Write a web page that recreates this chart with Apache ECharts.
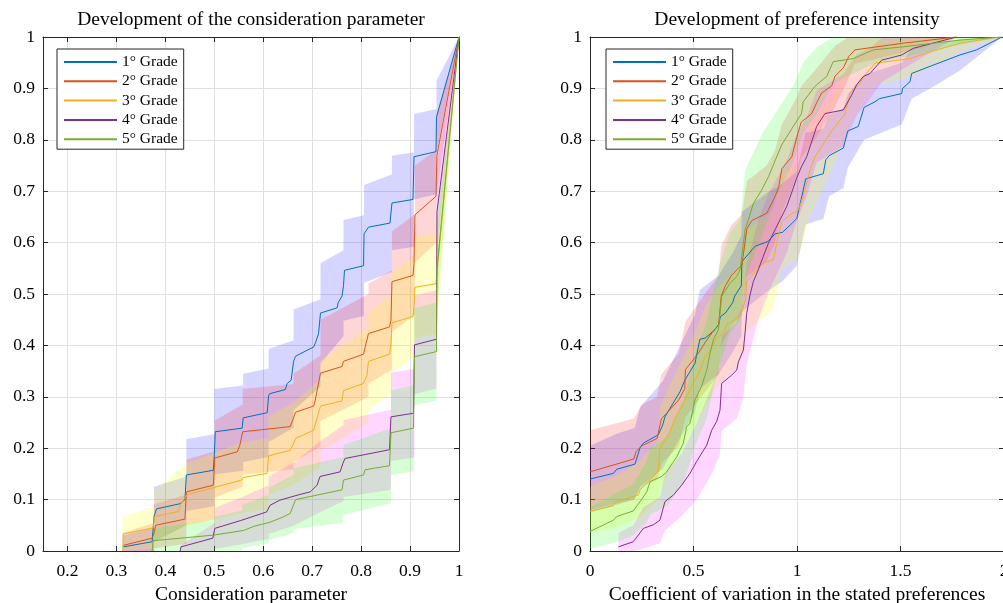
<!DOCTYPE html>
<html><head><meta charset="utf-8">
<script src="https://cdn.jsdelivr.net/npm/echarts@6/dist/echarts.min.js"></script>
<style>html,body{margin:0;padding:0;background:#fff}#c{width:1003px;height:603px}</style>
</head><body><div id="c"></div>
<script>
const grades = ['1° Grade','2° Grade','3° Grade','4° Grade','5° Grade'];
const lineColors = ['#0072BD','#D95319','#EDB120','#7E2F8E','#77AC30'];
const bandColors = ['rgba(0,0,255,0.165)','rgba(255,0,0,0.16)','rgba(255,255,0,0.2)','rgba(255,0,255,0.16)','rgba(0,255,0,0.16)'];
const consTicks = [0.2,0.3,0.4,0.5,0.6,0.7,0.8,0.9,1];
const prefTicks = [0,0.5,1,1.5,2];
const yTicks = [0,0.1,0.2,0.3,0.4,0.5,0.6,0.7,0.8,0.9,1];

// Left panel: consideration parameter, lines [x, F(x)]
const consG1 = [[0.314,0.008],[0.373,0.018],[0.377,0.068],[0.382,0.082],[0.430,0.092],[0.440,0.100],[0.443,0.148],[0.498,0.157],[0.500,0.185],[0.502,0.232],[0.557,0.239],[0.559,0.259],[0.608,0.269],[0.611,0.302],[0.613,0.306],[0.645,0.314],[0.649,0.326],[0.657,0.332],[0.662,0.369],[0.666,0.379],[0.703,0.397],[0.707,0.406],[0.713,0.423],[0.717,0.463],[0.751,0.473],[0.753,0.483],[0.761,0.496],[0.764,0.516],[0.766,0.546],[0.805,0.555],[0.806,0.617],[0.815,0.630],[0.859,0.638],[0.863,0.677],[0.906,0.684],[0.908,0.767],[0.953,0.777],[0.954,0.844],[1.0,1.0]];
const consG2 = [[0.314,0.011],[0.373,0.025],[0.377,0.035],[0.380,0.050],[0.440,0.062],[0.443,0.115],[0.498,0.128],[0.501,0.181],[0.547,0.193],[0.552,0.205],[0.558,0.232],[0.655,0.242],[0.662,0.259],[0.666,0.270],[0.703,0.282],[0.706,0.292],[0.717,0.346],[0.761,0.359],[0.764,0.369],[0.805,0.383],[0.808,0.396],[0.815,0.423],[0.858,0.436],[0.861,0.449],[0.863,0.524],[0.906,0.536],[0.908,0.557],[0.910,0.654],[0.953,0.690],[0.955,0.770],[1.0,1.0]];
const consG3 = [[0.313,0],[0.314,0.033],[0.375,0.045],[0.378,0.067],[0.427,0.077],[0.431,0.090],[0.443,0.109],[0.556,0.138],[0.559,0.143],[0.608,0.151],[0.611,0.185],[0.655,0.196],[0.662,0.209],[0.666,0.219],[0.703,0.235],[0.707,0.249],[0.717,0.282],[0.761,0.292],[0.764,0.312],[0.805,0.326],[0.812,0.342],[0.815,0.369],[0.858,0.383],[0.861,0.403],[0.863,0.444],[0.906,0.456],[0.908,0.476],[0.910,0.513],[0.953,0.520],[1.0,1.0]];
const consG4 = [[0.430,0],[0.432,0.008],[0.497,0.025],[0.501,0.044],[0.553,0.059],[0.607,0.076],[0.614,0.089],[0.634,0.099],[0.675,0.110],[0.696,0.115],[0.710,0.128],[0.716,0.145],[0.757,0.154],[0.763,0.171],[0.767,0.180],[0.858,0.197],[0.861,0.261],[0.907,0.268],[0.909,0.401],[0.954,0.412],[0.955,0.660],[1.0,1.0]];
const consG5 = [[0.373,0],[0.375,0.020],[0.499,0.031],[0.501,0.034],[0.560,0.040],[0.581,0.048],[0.614,0.056],[0.640,0.066],[0.655,0.073],[0.666,0.100],[0.761,0.119],[0.764,0.138],[0.805,0.148],[0.808,0.158],[0.858,0.166],[0.861,0.230],[0.907,0.239],[0.909,0.378],[0.954,0.388],[0.955,0.550],[1.0,1.0]];

// Left panel confidence bands [x, lower, upper]
const consBand1 = [[0.313,0,0.03],[0.377,0,0.045],[0.377,0.018,0.125],[0.443,0.05,0.145],[0.443,0.078,0.218],[0.500,0.087,0.227],[0.500,0.149,0.315],[0.559,0.156,0.322],[0.559,0.173,0.345],[0.611,0.183,0.355],[0.611,0.212,0.393],[0.662,0.24,0.41],[0.662,0.274,0.47],[0.717,0.32,0.49],[0.717,0.365,0.56],[0.764,0.418,0.585],[0.764,0.448,0.644],[0.806,0.457,0.653],[0.806,0.522,0.712],[0.863,0.543,0.733],[0.863,0.585,0.769],[0.908,0.592,0.776],[0.908,0.684,0.85],[0.954,0.694,0.86],[0.954,0.773,0.915],[1.0,1.0,1.0]];
const consBand2 = [[0.313,0,0.035],[0.377,0,0.055],[0.377,0.005,0.091],[0.443,0.014,0.11],[0.443,0.052,0.178],[0.501,0.062,0.194],[0.501,0.104,0.254],[0.558,0.125,0.285],[0.558,0.149,0.315],[0.662,0.159,0.325],[0.662,0.173,0.345],[0.717,0.203,0.381],[0.717,0.253,0.45],[0.815,0.30,0.50],[0.815,0.326,0.52],[0.863,0.352,0.546],[0.863,0.426,0.622],[0.910,0.459,0.655],[0.910,0.561,0.75],[0.954,0.60,0.78],[0.954,0.69,0.85],[1.0,1.0,1.0]];
const consBand3 = [[0.313,0,0.068],[0.377,0.005,0.085],[0.377,0.017,0.117],[0.443,0.048,0.17],[0.559,0.074,0.212],[0.611,0.082,0.22],[0.611,0.109,0.261],[0.662,0.129,0.289],[0.717,0.164,0.334],[0.717,0.194,0.37],[0.815,0.249,0.435],[0.815,0.274,0.464],[0.863,0.307,0.499],[0.863,0.347,0.541],[0.910,0.378,0.574],[0.910,0.415,0.611],[0.954,0.422,0.618],[1.0,1.0,1.0]];
const consBand4 = [[0.430,0,0.01],[0.501,0,0.055],[0.501,0.004,0.084],[0.557,0.013,0.105],[0.611,0.024,0.128],[0.611,0.033,0.145],[0.662,0.049,0.171],[0.717,0.076,0.214],[0.764,0.097,0.245],[0.764,0.105,0.255],[0.861,0.119,0.275],[0.861,0.175,0.347],[0.909,0.182,0.354],[0.909,0.305,0.497],[0.954,0.316,0.508],[0.954,0.567,0.753],[1.0,1.0,1.0]];
const consBand5 = [[0.373,0,0.044],[0.501,0,0.062],[0.501,0,0.067],[0.557,0.001,0.079],[0.557,0.006,0.09],[0.611,0.015,0.109],[0.611,0.021,0.123],[0.662,0.035,0.149],[0.662,0.043,0.161],[0.764,0.055,0.183],[0.764,0.07,0.206],[0.861,0.093,0.239],[0.861,0.148,0.312],[0.908,0.155,0.323],[0.908,0.283,0.473],[0.954,0.293,0.483],[0.954,0.452,0.648],[1.0,1.0,1.0]];

// Right panel: coefficient of variation, lines [x, F(x)]
const prefG1 = [[0,0.140],[0.113,0.151],[0.129,0.159],[0.217,0.169],[0.242,0.201],[0.258,0.210],[0.330,0.226],[0.351,0.245],[0.362,0.261],[0.435,0.310],[0.459,0.333],[0.483,0.349],[0.507,0.365],[0.531,0.412],[0.556,0.414],[0.597,0.428],[0.621,0.440],[0.630,0.456],[0.654,0.463],[0.689,0.483],[0.699,0.496],[0.731,0.516],[0.734,0.563],[0.798,0.593],[0.859,0.602],[0.894,0.617],[0.930,0.620],[0.975,0.637],[0.999,0.647],[1.020,0.684],[1.042,0.724],[1.127,0.734],[1.139,0.761],[1.155,0.769],[1.224,0.784],[1.245,0.817],[1.296,0.826],[1.324,0.863],[1.377,0.874],[1.398,0.880],[1.506,0.890],[1.510,0.900],[1.546,0.913],[1.554,0.929],[1.643,0.943],[1.787,0.965],[1.868,0.975],[1.99,1.0]];
const prefG2 = [[0,0.154],[0.212,0.179],[0.223,0.194],[0.252,0.205],[0.324,0.219],[0.345,0.257],[0.429,0.294],[0.458,0.316],[0.461,0.353],[0.493,0.369],[0.525,0.386],[0.557,0.406],[0.597,0.429],[0.621,0.439],[0.634,0.496],[0.654,0.516],[0.683,0.536],[0.734,0.557],[0.758,0.627],[0.782,0.643],[0.854,0.657],[0.894,0.690],[0.911,0.707],[0.927,0.744],[0.975,0.767],[0.999,0.805],[1.020,0.834],[1.071,0.851],[1.095,0.872],[1.119,0.891],[1.168,0.905],[1.184,0.924],[1.224,0.940],[1.250,0.962],[1.280,0.975],[1.514,0.988],[1.77,1.0]];
const prefG3 = [[0,0.077],[0.113,0.088],[0.121,0.095],[0.234,0.109],[0.242,0.119],[0.282,0.135],[0.330,0.156],[0.338,0.200],[0.386,0.232],[0.411,0.258],[0.459,0.294],[0.499,0.326],[0.530,0.350],[0.556,0.378],[0.580,0.391],[0.612,0.414],[0.644,0.424],[0.660,0.440],[0.709,0.452],[0.733,0.465],[0.752,0.490],[0.757,0.525],[0.837,0.560],[0.886,0.567],[0.902,0.599],[0.926,0.641],[0.966,0.654],[1.006,0.663],[1.030,0.689],[1.063,0.741],[1.087,0.767],[1.167,0.817],[1.232,0.850],[1.256,0.890],[1.304,0.910],[1.328,0.926],[1.377,0.949],[1.546,0.958],[1.643,0.971],[1.787,0.988],[1.98,1.0]];
const prefG4 = [[0.137,0.008],[0.209,0.018],[0.258,0.044],[0.306,0.051],[0.338,0.060],[0.362,0.096],[0.403,0.109],[0.443,0.128],[0.483,0.151],[0.515,0.174],[0.564,0.206],[0.588,0.235],[0.612,0.252],[0.628,0.274],[0.636,0.326],[0.684,0.342],[0.709,0.352],[0.717,0.368],[0.741,0.391],[0.749,0.424],[0.757,0.462],[0.773,0.498],[0.789,0.524],[0.813,0.547],[0.837,0.573],[0.862,0.599],[0.894,0.625],[0.950,0.670],[0.982,0.706],[0.998,0.725],[1.022,0.748],[1.047,0.767],[1.095,0.826],[1.135,0.851],[1.224,0.858],[1.264,0.887],[1.288,0.907],[1.320,0.923],[1.353,0.929],[1.409,0.955],[1.506,0.965],[1.562,0.978],[1.771,1.0]];
const prefG5 = [[0,0.038],[0.113,0.060],[0.129,0.067],[0.209,0.078],[0.242,0.096],[0.274,0.115],[0.290,0.135],[0.346,0.145],[0.370,0.154],[0.419,0.183],[0.451,0.210],[0.467,0.242],[0.483,0.248],[0.507,0.294],[0.539,0.320],[0.564,0.352],[0.580,0.385],[0.596,0.411],[0.620,0.430],[0.628,0.462],[0.636,0.495],[0.676,0.521],[0.709,0.534],[0.725,0.547],[0.749,0.625],[0.765,0.644],[0.789,0.676],[0.829,0.702],[0.862,0.728],[0.902,0.767],[0.926,0.790],[0.982,0.826],[1.022,0.851],[1.030,0.874],[1.055,0.887],[1.079,0.900],[1.095,0.907],[1.143,0.923],[1.175,0.952],[1.272,0.958],[1.369,0.975],[1.514,0.981],[1.787,0.994],[1.99,1.0]];

// Right panel confidence bands [x, lower, upper]
const prefBand1 = [[0,0.075,0.205],[0.129,0.09,0.228],[0.217,0.10,0.24],[0.242,0.125,0.28],[0.351,0.16,0.33],[0.435,0.22,0.40],[0.507,0.27,0.46],[0.531,0.316,0.508],[0.621,0.344,0.536],[0.689,0.386,0.58],[0.731,0.418,0.614],[0.734,0.466,0.66],[0.859,0.506,0.698],[0.930,0.525,0.715],[0.999,0.555,0.739],[1.042,0.635,0.813],[1.127,0.646,0.822],[1.155,0.69,0.848],[1.224,0.706,0.862],[1.245,0.745,0.889],[1.324,0.80,0.926],[1.506,0.83,0.95],[1.554,0.88,0.978],[1.643,0.90,0.986],[1.787,0.935,0.995],[1.99,1.0,1.0]];
const prefBand2 = [[0,0.08,0.235],[0.212,0.10,0.258],[0.252,0.125,0.285],[0.324,0.138,0.30],[0.345,0.17,0.344],[0.429,0.204,0.384],[0.461,0.26,0.446],[0.557,0.31,0.502],[0.621,0.343,0.535],[0.634,0.398,0.594],[0.683,0.438,0.634],[0.734,0.459,0.655],[0.758,0.533,0.72],[0.854,0.564,0.75],[0.894,0.60,0.78],[0.927,0.658,0.83],[0.999,0.727,0.883],[1.020,0.764,0.904],[1.095,0.805,0.939],[1.184,0.865,0.983],[1.25,0.92,1.0],[1.28,0.948,1.0],[1.514,0.97,1.0],[1.77,1.0,1.0]];
const prefBand3 = [[0,0.035,0.125],[0.121,0.045,0.145],[0.242,0.065,0.175],[0.330,0.10,0.215],[0.338,0.12,0.28],[0.411,0.175,0.345],[0.499,0.236,0.416],[0.556,0.282,0.474],[0.612,0.318,0.51],[0.709,0.356,0.55],[0.752,0.392,0.588],[0.757,0.427,0.623],[0.886,0.47,0.664],[0.926,0.546,0.736],[1.006,0.570,0.756],[1.063,0.651,0.831],[1.167,0.74,0.89],[1.256,0.83,0.95],[1.377,0.906,0.99],[1.546,0.92,0.996],[1.787,0.97,1.0],[1.98,1.0,1.0]];
const prefBand4 = [[0.137,0,0.035],[0.209,0,0.05],[0.258,0.005,0.085],[0.338,0.015,0.105],[0.362,0.04,0.15],[0.443,0.068,0.19],[0.515,0.10,0.248],[0.588,0.15,0.32],[0.628,0.188,0.36],[0.636,0.234,0.418],[0.709,0.258,0.446],[0.741,0.297,0.485],[0.757,0.364,0.56],[0.813,0.45,0.644],[0.862,0.503,0.695],[0.950,0.58,0.76],[0.998,0.64,0.81],[1.047,0.69,0.844],[1.095,0.756,0.896],[1.224,0.788,0.928],[1.288,0.848,0.966],[1.353,0.88,0.978],[1.409,0.912,0.998],[1.562,0.95,1.0],[1.771,1.0,1.0]];
const prefBand5 = [[0,0.005,0.085],[0.113,0.015,0.11],[0.209,0.03,0.13],[0.274,0.055,0.175],[0.290,0.07,0.20],[0.370,0.087,0.221],[0.451,0.13,0.29],[0.507,0.205,0.383],[0.564,0.258,0.446],[0.596,0.317,0.505],[0.628,0.364,0.56],[0.676,0.423,0.619],[0.725,0.449,0.645],[0.749,0.53,0.74],[0.829,0.612,0.81],[0.902,0.689,0.855],[0.982,0.756,0.905],[1.030,0.812,0.95],[1.095,0.85,0.98],[1.175,0.909,1.0],[1.369,0.948,1.0],[1.787,0.985,1.0],[1.99,1.0,1.0]];

const consLines = [consG1,consG2,consG3,consG4,consG5];
const consBands = [consBand1,consBand2,consBand3,consBand4,consBand5];
const prefLines = [prefG1,prefG2,prefG3,prefG4,prefG5];
const prefBands = [prefBand1,prefBand2,prefBand3,prefBand4,prefBand5];

const FONT = 'Liberation Serif';
const AX = '#262626';
const GRIDC = '#e0e0e0';

function bandSeries(band, color, idx){
  return {type:'custom', xAxisIndex:idx, yAxisIndex:idx, silent:true, z:1, clip:true,
    animation:false, data:[[band[0][0], band[0][1]]],
    renderItem:function(params, api){
      const up = band.map(d => api.coord([d[0], d[2]]));
      const lo = band.slice().reverse().map(d => api.coord([d[0], d[1]]));
      return {type:'polygon', shape:{points: up.concat(lo)}, style:{fill:color, stroke:null}};
    }};
}
function lineSeries(data, name, color, idx){
  return {type:'line', name:name, xAxisIndex:idx, yAxisIndex:idx, data:data, symbol:'none',
    z:3, clip:true, animation:false, silent:true, color:color,
    lineStyle:{color:color, width:1}};
}
function xAx(gi, min, max, interval, custom, name, pos){
  const main = pos === 'bottom';
  const o = {type:'value', gridIndex:gi, position:pos, min:min, max:max,
    axisLine:{show:true, onZero:false, lineStyle:{color:AX, width:1}},
    axisTick:{show:true, inside:true, length:5, lineStyle:{color:AX}},
    axisLabel:{show:main, color:'#000', fontFamily:FONT, fontSize:17.5, margin:11},
    splitLine:{show:main, lineStyle:{color:GRIDC, width:1}},
    name: main ? name : '', nameLocation:'middle', nameGap:34,
    nameTextStyle:{color:'#000', fontFamily:FONT, fontSize:19.5}};
  if (interval) o.interval = interval;
  if (custom) { o.axisTick.customValues = custom; o.axisLabel.customValues = custom; }
  return o;
}
function yAx(gi, pos){
  const main = pos === 'left';
  return {type:'value', gridIndex:gi, position:pos, min:0, max:1, interval:0.1,
    axisLine:{show:true, onZero:false, lineStyle:{color:AX, width:1}},
    axisTick:{show:true, inside:true, length:5, lineStyle:{color:AX}},
    axisLabel:{show:main, color:'#000', fontFamily:FONT, fontSize:17.5, margin:8},
    splitLine:{show:main, lineStyle:{color:GRIDC, width:1}}};
}

const series = [];
consBands.forEach((b,i) => series.push(bandSeries(b, bandColors[i], 0)));
prefBands.forEach((b,i) => series.push(bandSeries(b, bandColors[i], 2)));
consLines.forEach((l,i) => series.push(lineSeries(l, grades[i], lineColors[i], 0)));
prefLines.forEach((l,i) => series.push(lineSeries(l, grades[i], lineColors[i], 2)));

function legend(left){
  return {data:grades, orient:'vertical', left:left, top:49, itemWidth:53, itemHeight:14, itemGap:3.3,
    padding:[5,6,2,6], borderColor:'#262626', borderWidth:1, backgroundColor:'#fff',
    selectedMode:false, itemStyle:{opacity:0},
    textStyle:{color:'#000', fontFamily:FONT, fontSize:15.5}};
}

function grid(left, width){
  return {left:left, top:37, width:width, height:514, outerBoundsMode:'none', containLabel:false};
}

const chart = echarts.init(document.getElementById('c'), null, {renderer:'canvas'});
chart.setOption({
  animation:false,
  backgroundColor:'#fff',
  grid:[grid(43,416), grid(43,416), grid(590,414), grid(590,414)],
  xAxis:[xAx(0,0.15,1,null,consTicks,'Consideration parameter','bottom'),
         xAx(1,0.15,1,null,consTicks,'','top'),
         xAx(2,0,2,0.5,null,'Coefficient of variation in the stated preferences','bottom'),
         xAx(3,0,2,0.5,null,'','top')],
  yAxis:[yAx(0,'left'), yAx(1,'right'), yAx(2,'left'), yAx(3,'right')],
  legend:[legend(57), legend(606)],
  graphic:[
    {type:'text', x:251, y:20, style:{text:'Development of the consideration parameter', fontFamily:FONT, fontSize:19.5, fill:'#000', align:'center', verticalAlign:'middle', textAlign:'center', textVerticalAlign:'middle'}},
    {type:'text', x:797, y:20, style:{text:'Development of preference intensity', fontFamily:FONT, fontSize:19.5, fill:'#000', align:'center', verticalAlign:'middle', textAlign:'center', textVerticalAlign:'middle'}}
  ],
  series:series
});
</script></body></html>
